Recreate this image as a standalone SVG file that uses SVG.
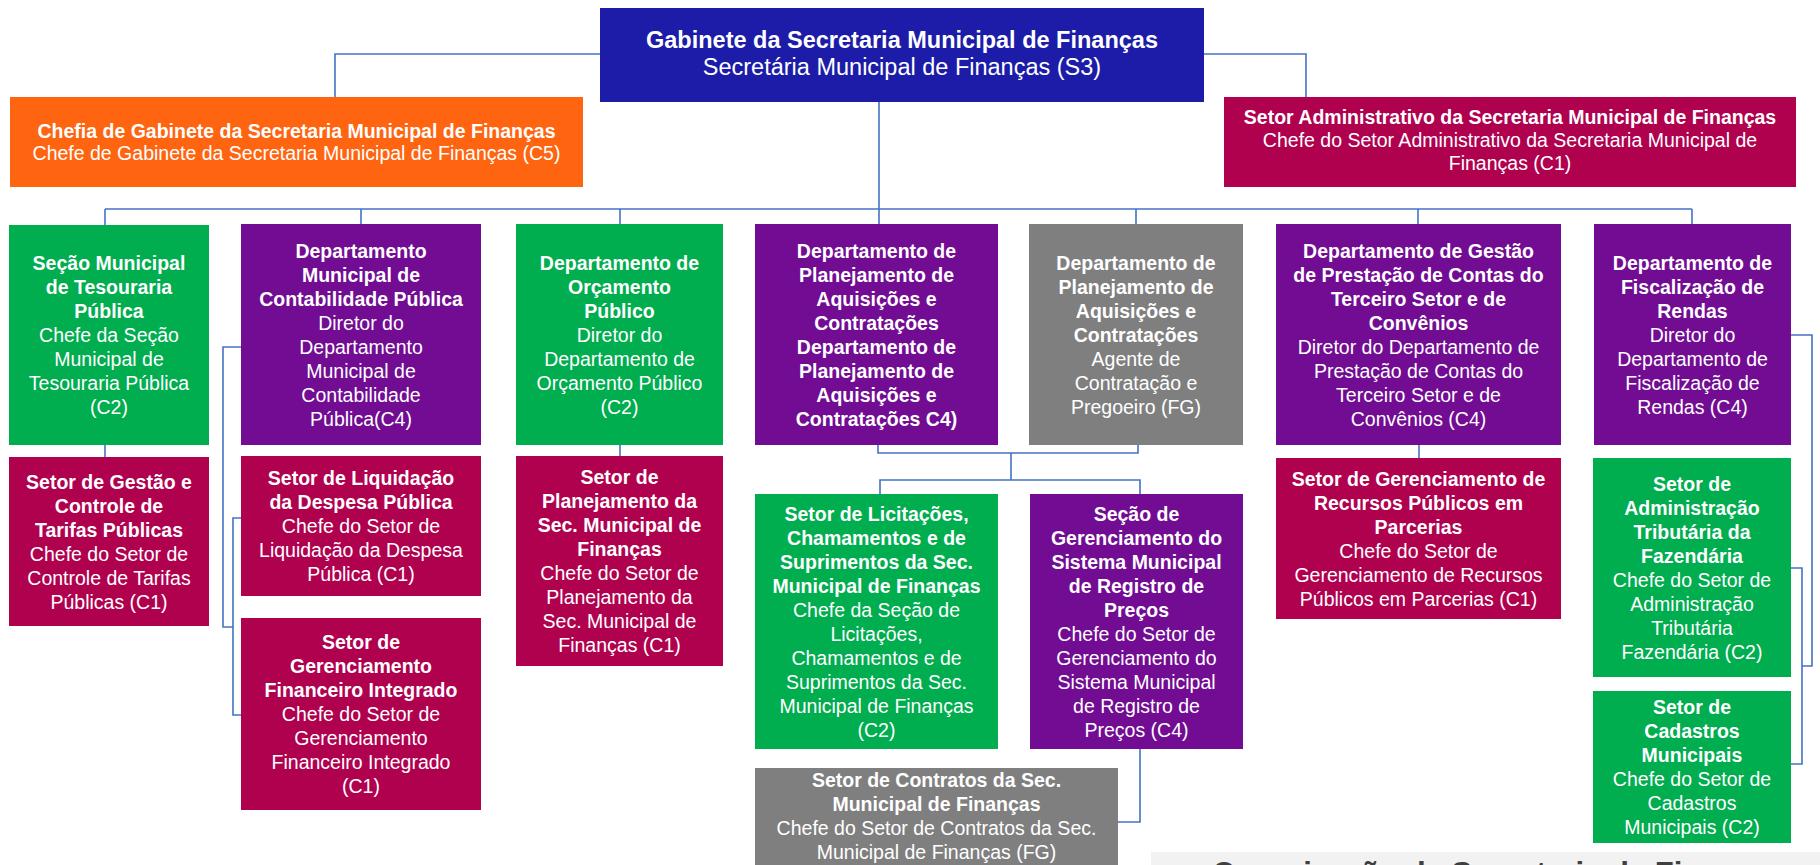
<svg xmlns="http://www.w3.org/2000/svg" width="1820" height="865" viewBox="0 0 1820 865">
<style>
text{font-family:"Liberation Sans",Arial,sans-serif;fill:#fff;text-anchor:middle;font-size:19.5px}
.b{font-weight:bold}
.blue{fill:#1C1CA8}.orange{fill:#FF6410}.mag{fill:#B0014F}.pur{fill:#720C93}.grn{fill:#00AD4F}.gry{fill:#7F7F7F}
.con path{fill:none;stroke:#4472C4;stroke-width:1.6}
</style>
<rect width="1820" height="865" fill="#fff"/>
<g class="con" id="connectors">
<path d="M600,54 H335 V97"/>
<path d="M1204,54 H1306 V97"/>
<path d="M879,102 V224"/>
<path d="M105,209 H1692"/>
<path d="M105,209 V225"/>
<path d="M361,209 V224"/>
<path d="M620,209 V224"/>
<path d="M1136,209 V224"/>
<path d="M1418,209 V224"/>
<path d="M1692,209 V224"/>
<path d="M105,445 V457"/>
<path d="M620,445 V456"/>
<path d="M241,347 H223 V627 H233"/>
<path d="M241,518 H233 V715 H241"/>
<path d="M878,445 V453 H1138 V445"/>
<path d="M1011,453 V480"/>
<path d="M880,494 V480 H1140 V494"/>
<path d="M1140,749 V822 H1118"/>
<path d="M1419,445 V458"/>
<path d="M1791,335 H1812 V666 H1802"/>
<path d="M1791,568 H1802 V764 H1791"/>
</g>
<g id="n-gabinete"><rect class="blue" x="600" y="8" width="604" height="94"/>
<text x="902" y="48" class="b" style="font-size:23.5px">Gabinete da Secretaria Municipal de Finanças</text>
<text x="902" y="75" style="font-size:23.5px">Secretária Municipal de Finanças (S3)</text></g>
<g id="n-chefia"><rect class="orange" x="10" y="97" width="573" height="90"/>
<text x="296.5" y="138" class="b">Chefia de Gabinete da Secretaria Municipal de Finanças</text>
<text x="296.5" y="160">Chefe de Gabinete da Secretaria Municipal de Finanças (C5)</text></g>
<g id="n-setoradm"><rect class="mag" x="1224" y="97" width="572" height="90"/>
<text x="1510" y="124" class="b">Setor Administrativo da Secretaria Municipal de Finanças</text>
<text x="1510" y="147">Chefe do Setor Administrativo da Secretaria Municipal de</text>
<text x="1510" y="170">Finanças (C1)</text></g>
<g id="n-tesouraria"><rect class="grn" x="9" y="225" width="200" height="220"/>
<text x="109" y="270" class="b">Seção Municipal</text>
<text x="109" y="294" class="b">de Tesouraria</text>
<text x="109" y="318" class="b">Pública</text>
<text x="109" y="342">Chefe da Seção</text>
<text x="109" y="366">Municipal de</text>
<text x="109" y="390">Tesouraria Pública</text>
<text x="109" y="414">(C2)</text></g>
<g id="n-contabilidade"><rect class="pur" x="241" y="224" width="240" height="221"/>
<text x="361" y="258" class="b">Departamento</text>
<text x="361" y="282" class="b">Municipal de</text>
<text x="361" y="306" class="b">Contabilidade Pública</text>
<text x="361" y="330">Diretor do</text>
<text x="361" y="354">Departamento</text>
<text x="361" y="378">Municipal de</text>
<text x="361" y="402">Contabilidade</text>
<text x="361" y="426">Pública(C4)</text></g>
<g id="n-orcamento"><rect class="grn" x="516" y="224" width="207" height="221"/>
<text x="619.5" y="270" class="b">Departamento de</text>
<text x="619.5" y="294" class="b">Orçamento</text>
<text x="619.5" y="318" class="b">Público</text>
<text x="619.5" y="342">Diretor do</text>
<text x="619.5" y="366">Departamento de</text>
<text x="619.5" y="390">Orçamento Público</text>
<text x="619.5" y="414">(C2)</text></g>
<g id="n-planejamento"><rect class="pur" x="755" y="224" width="243" height="221"/>
<text x="876.5" y="258" class="b">Departamento de</text>
<text x="876.5" y="282" class="b">Planejamento de</text>
<text x="876.5" y="306" class="b">Aquisições e</text>
<text x="876.5" y="330" class="b">Contratações</text>
<text x="876.5" y="354" class="b">Departamento de</text>
<text x="876.5" y="378" class="b">Planejamento de</text>
<text x="876.5" y="402" class="b">Aquisições e</text>
<text x="876.5" y="426" class="b">Contratações C4)</text></g>
<g id="n-planejamento-fg"><rect class="gry" x="1029" y="224" width="214" height="221"/>
<text x="1136" y="270" class="b">Departamento de</text>
<text x="1136" y="294" class="b">Planejamento de</text>
<text x="1136" y="318" class="b">Aquisições e</text>
<text x="1136" y="342" class="b">Contratações</text>
<text x="1136" y="366">Agente de</text>
<text x="1136" y="390">Contratação e</text>
<text x="1136" y="414">Pregoeiro (FG)</text></g>
<g id="n-prestacao"><rect class="pur" x="1276" y="224" width="285" height="221"/>
<text x="1418.5" y="258" class="b">Departamento de Gestão</text>
<text x="1418.5" y="282" class="b">de Prestação de Contas do</text>
<text x="1418.5" y="306" class="b">Terceiro Setor e de</text>
<text x="1418.5" y="330" class="b">Convênios</text>
<text x="1418.5" y="354">Diretor do Departamento de</text>
<text x="1418.5" y="378">Prestação de Contas do</text>
<text x="1418.5" y="402">Terceiro Setor e de</text>
<text x="1418.5" y="426">Convênios (C4)</text></g>
<g id="n-fiscalizacao"><rect class="pur" x="1594" y="224" width="197" height="221"/>
<text x="1692.5" y="270" class="b">Departamento de</text>
<text x="1692.5" y="294" class="b">Fiscalização de</text>
<text x="1692.5" y="318" class="b">Rendas</text>
<text x="1692.5" y="342">Diretor do</text>
<text x="1692.5" y="366">Departamento de</text>
<text x="1692.5" y="390">Fiscalização de</text>
<text x="1692.5" y="414">Rendas (C4)</text></g>
<g id="n-tarifas"><rect class="mag" x="9" y="457" width="200" height="169"/>
<text x="109" y="488.5" class="b">Setor de Gestão e</text>
<text x="109" y="512.5" class="b">Controle de</text>
<text x="109" y="536.5" class="b">Tarifas Públicas</text>
<text x="109" y="560.5">Chefe do Setor de</text>
<text x="109" y="584.5">Controle de Tarifas</text>
<text x="109" y="608.5">Públicas (C1)</text></g>
<g id="n-liquidacao"><rect class="mag" x="241" y="456" width="240" height="140"/>
<text x="361" y="485" class="b">Setor de Liquidação</text>
<text x="361" y="509" class="b">da Despesa Pública</text>
<text x="361" y="533">Chefe do Setor de</text>
<text x="361" y="557">Liquidação da Despesa</text>
<text x="361" y="581">Pública (C1)</text></g>
<g id="n-financeiro"><rect class="mag" x="241" y="618" width="240" height="192"/>
<text x="361" y="649" class="b">Setor de</text>
<text x="361" y="673" class="b">Gerenciamento</text>
<text x="361" y="697" class="b">Financeiro Integrado</text>
<text x="361" y="721">Chefe do Setor de</text>
<text x="361" y="745">Gerenciamento</text>
<text x="361" y="769">Financeiro Integrado</text>
<text x="361" y="793">(C1)</text></g>
<g id="n-planejamento-sec"><rect class="mag" x="516" y="456" width="207" height="210"/>
<text x="619.5" y="484" class="b">Setor de</text>
<text x="619.5" y="508" class="b">Planejamento da</text>
<text x="619.5" y="532" class="b">Sec. Municipal de</text>
<text x="619.5" y="556" class="b">Finanças</text>
<text x="619.5" y="580">Chefe do Setor de</text>
<text x="619.5" y="604">Planejamento da</text>
<text x="619.5" y="628">Sec. Municipal de</text>
<text x="619.5" y="652">Finanças (C1)</text></g>
<g id="n-licitacoes"><rect class="grn" x="755" y="494" width="243" height="255"/>
<text x="876.5" y="520.5" class="b">Setor de Licitações,</text>
<text x="876.5" y="544.5" class="b">Chamamentos e de</text>
<text x="876.5" y="568.5" class="b">Suprimentos da Sec.</text>
<text x="876.5" y="592.5" class="b">Municipal de Finanças</text>
<text x="876.5" y="616.5">Chefe da Seção de</text>
<text x="876.5" y="640.5">Licitações,</text>
<text x="876.5" y="664.5">Chamamentos e de</text>
<text x="876.5" y="688.5">Suprimentos da Sec.</text>
<text x="876.5" y="712.5">Municipal de Finanças</text>
<text x="876.5" y="736.5">(C2)</text></g>
<g id="n-registro-precos"><rect class="pur" x="1030" y="494" width="213" height="255"/>
<text x="1136.5" y="520.5" class="b">Seção de</text>
<text x="1136.5" y="544.5" class="b">Gerenciamento do</text>
<text x="1136.5" y="568.5" class="b">Sistema Municipal</text>
<text x="1136.5" y="592.5" class="b">de Registro de</text>
<text x="1136.5" y="616.5" class="b">Preços</text>
<text x="1136.5" y="640.5">Chefe do Setor de</text>
<text x="1136.5" y="664.5">Gerenciamento do</text>
<text x="1136.5" y="688.5">Sistema Municipal</text>
<text x="1136.5" y="712.5">de Registro de</text>
<text x="1136.5" y="736.5">Preços (C4)</text></g>
<g id="n-contratos"><rect class="gry" x="755" y="768" width="363" height="110"/>
<text x="936.5" y="787" class="b">Setor de Contratos da Sec.</text>
<text x="936.5" y="811" class="b">Municipal de Finanças</text>
<text x="936.5" y="835">Chefe do Setor de Contratos da Sec.</text>
<text x="936.5" y="859">Municipal de Finanças (FG)</text></g>
<g id="n-parcerias"><rect class="mag" x="1276" y="458" width="285" height="161"/>
<text x="1418.5" y="485.5" class="b">Setor de Gerenciamento de</text>
<text x="1418.5" y="509.5" class="b">Recursos Públicos em</text>
<text x="1418.5" y="533.5" class="b">Parcerias</text>
<text x="1418.5" y="557.5">Chefe do Setor de</text>
<text x="1418.5" y="581.5">Gerenciamento de Recursos</text>
<text x="1418.5" y="605.5">Públicos em Parcerias (C1)</text></g>
<g id="n-tributaria"><rect class="grn" x="1593" y="458" width="198" height="219"/>
<text x="1692" y="490.5" class="b">Setor de</text>
<text x="1692" y="514.5" class="b">Administração</text>
<text x="1692" y="538.5" class="b">Tributária da</text>
<text x="1692" y="562.5" class="b">Fazendária</text>
<text x="1692" y="586.5">Chefe do Setor de</text>
<text x="1692" y="610.5">Administração</text>
<text x="1692" y="634.5">Tributária</text>
<text x="1692" y="658.5">Fazendária (C2)</text></g>
<g id="n-cadastros"><rect class="grn" x="1593" y="691" width="198" height="152"/>
<text x="1692" y="714" class="b">Setor de</text>
<text x="1692" y="738" class="b">Cadastros</text>
<text x="1692" y="762" class="b">Municipais</text>
<text x="1692" y="786">Chefe do Setor de</text>
<text x="1692" y="810">Cadastros</text>
<text x="1692" y="834">Municipais (C2)</text></g>
<g id="caption"><rect x="1151" y="852" width="669" height="20" fill="#F2F2F2"/>
<text x="1212" y="884" class="b" style="font-size:31px;fill:#404040;text-anchor:start">Organização da Secretaria de Fi</text></g>
</svg>
